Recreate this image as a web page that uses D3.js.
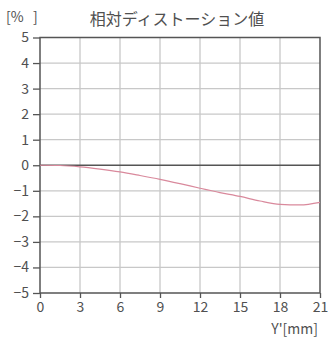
<!DOCTYPE html>
<html><head><meta charset="utf-8">
<script src="https://cdn.jsdelivr.net/npm/d3@7"></script>
<style>body{margin:0;background:#fff;} svg{display:block;}</style>
</head><body>
<script>
const xTicks = [0,3,6,9,12,15,18,21];
const yTicks = [5,4,3,2,1,0,-1,-2,-3,-4,-5];
const yPos = [0,1.5,3,4.5,6,7.5,9,10.5,12,13.5,15,16.5,18,19.5,21];
const distortion = [0,-0.01,-0.06,-0.15,-0.26,-0.40,-0.55,-0.72,-0.90,-1.07,-1.22,-1.40,-1.53,-1.55,-1.45];
const titleText = "相対ディストーション値";
const yUnit = "[%   ]";
const xUnit = "Y'[mm]";

const W=329,H=345;
const L=40,R=320,T=37.5,B=293;
const svg=d3.select("body").append("svg").attr("width",W).attr("height",H);
const x=d3.scaleLinear().domain([0,21]).range([L,R]);
const y=d3.scaleLinear().domain([-5,5]).range([B,T]);
const font="'Noto Sans CJK JP','Noto Sans',sans-serif";
const txt="#505050";

// grid
svg.append("g").selectAll("line").data(xTicks.slice(1,-1)).join("line")
 .attr("x1",d=>x(d)).attr("x2",d=>x(d)).attr("y1",T).attr("y2",B)
 .attr("stroke","#c8c8c8").attr("stroke-width",1.3);
svg.append("g").selectAll("line").data(yTicks.filter(d=>d!==5&&d!==-5&&d!==0)).join("line")
 .attr("x1",L).attr("x2",R).attr("y1",d=>y(d)).attr("y2",d=>y(d))
 .attr("stroke","#c8c8c8").attr("stroke-width",1.3);

// axes
const ax=svg.append("g").attr("transform",`translate(0,${B})`)
 .call(d3.axisBottom(x).tickValues(xTicks).tickSize(5).tickPadding(4).tickFormat(d3.format("d")));
const ay=svg.append("g").attr("transform",`translate(${L},0)`)
 .call(d3.axisLeft(y).tickValues(yTicks).tickSize(7).tickPadding(4).tickFormat(d3.format("d")));
[ax,ay].forEach(g=>{
  g.select(".domain").remove();
  g.selectAll("line").attr("stroke","#555").attr("stroke-width",1.3);
  g.selectAll("text").attr("fill",txt).style("font-family",font).style("font-size","14px");
});

// frame
svg.append("rect").attr("x",L).attr("y",T).attr("width",R-L).attr("height",B-T)
 .attr("fill","none").attr("stroke","#555").attr("stroke-width",1.5);
svg.append("line").attr("x1",L).attr("x2",R).attr("y1",y(0)).attr("y2",y(0))
 .attr("stroke","#555").attr("stroke-width",1.5);

// curve
svg.append("path").datum(yPos.map((v,i)=>[v,distortion[i]]))
 .attr("fill","none").attr("stroke","#d9899c").attr("stroke-width",1.2)
 .attr("d",d3.line().x(d=>x(d[0])).y(d=>y(d[1])).curve(d3.curveMonotoneX));

// texts
svg.append("text").attr("x",177).attr("y",25).attr("text-anchor","middle")
 .style("font-family",font).style("font-size","16px").attr("fill",txt).text(titleText);
svg.append("text").attr("x",6).attr("y",22).style("white-space","pre")
 .style("font-family",font).style("font-size","14px").attr("fill",txt).text(yUnit);
svg.append("text").attr("x",318).attr("y",334).attr("text-anchor","end")
 .style("font-family",font).style("font-size","14px").attr("fill",txt).text(xUnit);
</script>
</body></html>
